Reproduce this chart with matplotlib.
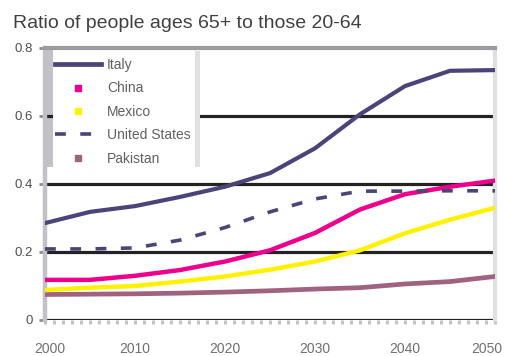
import matplotlib
matplotlib.use('Agg')
import matplotlib.pyplot as plt
import matplotlib.transforms as mtransforms
from matplotlib.lines import Line2D
from matplotlib.patches import Rectangle

# ratio of people 65+ to people 20-64
years = [2000, 2005, 2010, 2015, 2020, 2025, 2030, 2035, 2040, 2045, 2050]
italy = [0.285, 0.318, 0.335, 0.362, 0.392, 0.432, 0.505, 0.605, 0.688, 0.733, 0.735]
china = [0.118, 0.118, 0.130, 0.147, 0.172, 0.205, 0.256, 0.325, 0.370, 0.392, 0.410]
mexico = [0.088, 0.095, 0.100, 0.113, 0.128, 0.148, 0.172, 0.205, 0.255, 0.295, 0.330]
usa = [0.209, 0.209, 0.212, 0.235, 0.272, 0.318, 0.356, 0.379, 0.379, 0.380, 0.380]
pakistan = [0.075, 0.076, 0.077, 0.079, 0.082, 0.086, 0.091, 0.095, 0.106, 0.113, 0.128]

labels = ['Italy', 'China', 'Mexico', 'United States', 'Pakistan']
yticks = [0, 0.2, 0.4, 0.6, 0.8]
ytick_labels = ['0', '0.2', '0.4', '0.6', '0.8']
xticks = [2000, 2010, 2020, 2030, 2040, 2050]

purple = '#4a4479'
pink = '#ec008c'
yellow = '#fff200'
mauve = '#a0627f'
dash = (0, (3, 4))

plt.rcParams['font.family'] = ['Liberation Sans', 'DejaVu Sans']

fig = plt.figure(figsize=(5.09, 3.56), dpi=100)
W, H = 509, 356
# plot area in pixels: x 45..495, y 48 (top) .. 320 (zero line)
ax = fig.add_axes([45 / W, (H - 320) / H, 450 / W, 272 / H])

for g in yticks[:-1]:
    ax.axhline(g, color='#232323', lw=2.3, zorder=2)

ax.plot(years, pakistan, color=mauve, lw=3.4, zorder=3)
ax.plot(years, mexico, color=yellow, lw=3.2, zorder=3)
ax.plot(years, china, color=pink, lw=3.2, zorder=3)
ax.plot(years, usa, color=purple, lw=2.6, ls=dash, zorder=3)
ax.plot(years, italy, color=purple, lw=3.0, zorder=3)

ax.set_xlim(2000, 2050)
ax.set_ylim(0, 0.8)
ax.set_yticks(yticks)
ax.set_yticklabels(ytick_labels)
ax.set_xticks(xticks)
ax.set_xticks(list(range(2000, 2051)), minor=True)
ax.tick_params(axis='y', length=4, width=2, color='#8c8c90', pad=5,
               labelsize=9.5, labelcolor='#505050')
ax.tick_params(axis='x', which='major', length=3, width=2.2, color='#c4c4c8',
               pad=13, labelsize=10, labelcolor='#707070')
ax.tick_params(axis='x', which='minor', length=3, width=2.2, color='#c4c4c8')

# end labels sit a little inward
xl = ax.get_xticklabels()
xl[0].set_transform(xl[0].get_transform() + mtransforms.ScaledTranslation(5 / 100, 0, fig.dpi_scale_trans))
xl[-1].set_transform(xl[-1].get_transform() + mtransforms.ScaledTranslation(-8 / 100, 0, fig.dpi_scale_trans))

ax.spines['bottom'].set_visible(False)
ax.spines['top'].set_color('#9c9ca0')
ax.spines['top'].set_linewidth(3)
ax.spines['left'].set_color('#c2c2c6')
ax.spines['left'].set_linewidth(3.2)
ax.spines['right'].set_color('#e0e0e2')
ax.spines['right'].set_linewidth(3)


def fx(px):
    return (px - 45) / 450


def fy(py):
    return (320 - py) / 272


# legend box with the shaded sides
ax.add_patch(Rectangle((fx(44), fy(167)), fx(53) - fx(44), fy(50) - fy(167),
                       transform=ax.transAxes, color='#c2c2c6', lw=0,
                       zorder=1, clip_on=False))
ax.add_patch(Rectangle((fx(53), fy(167)), fx(200) - fx(53), fy(51) - fy(167),
                       transform=ax.transAxes, color='white', lw=0,
                       zorder=4, clip_on=False))
ax.add_patch(Rectangle((fx(195), fy(167)), fx(200) - fx(195), fy(51) - fy(167),
                       transform=ax.transAxes, color='#e0e0e2', lw=0,
                       zorder=6, clip_on=False))

handles = [
    Line2D([], [], color=purple, lw=3.4),
    Line2D([], [], color=pink, ls='none', marker='s', ms=4),
    Line2D([], [], color=yellow, ls='none', marker='s', ms=4),
    Line2D([], [], color=purple, lw=2.6, ls=dash),
    Line2D([], [], color=mauve, ls='none', marker='s', ms=4),
]
leg = ax.legend(handles, labels, loc='upper left',
                bbox_to_anchor=(fx(55), fy(58)), frameon=False,
                fontsize=10, handlelength=3.3, handletextpad=0.45,
                labelspacing=0.68, borderaxespad=0, borderpad=0)
leg.set_zorder(7)
for t in leg.get_texts():
    t.set_color('#606060')

fig.text(13 / W, 1 - 15 / H, 'Ratio of people ages 65+ to those 20-64',
         fontsize=14, color='#404040', ha='left', va='top')

fig.savefig('out.png', dpi=100)
